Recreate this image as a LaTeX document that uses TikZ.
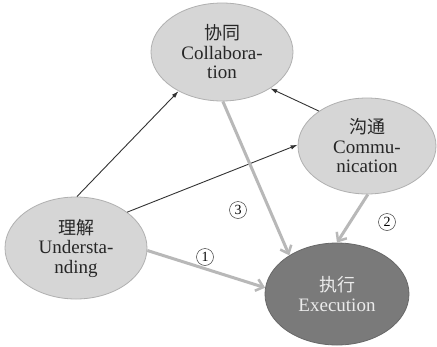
\documentclass[tikz,border=0pt]{standalone}
\usepackage{fontspec}
\setmainfont{Liberation Serif}
\newfontfamily\cjk{Noto Sans CJK SC}
\usetikzlibrary{shapes.geometric,arrows.meta}
\definecolor{lightfill}{HTML}{D6D6D6}
\definecolor{lightedge}{HTML}{B0B0B0}
\definecolor{darkfill}{HTML}{7A7A7A}
\definecolor{flowgray}{HTML}{B8B8B8}
\definecolor{linkgray}{HTML}{333333}
\tikzset{
  bubble/.style={ellipse, inner sep=0pt, fill=lightfill, draw=lightedge, line width=0.8pt,
    align=center, font=\fontsize{19}{19.5}\selectfont, text=black!85},
  mainbubble/.style={bubble, fill=darkfill, draw=darkfill!85!black, text=white!92!black},
  link/.style={draw=linkgray, line width=0.9pt, -{Latex[length=7pt,width=4.5pt]}},
  flow/.style={draw=flowgray, line width=3pt, -{Straight Barb[length=7pt,width=12pt,line width=2.5pt]}},
  marker/.style={circle, draw=black!75, line width=0.5pt, inner sep=0pt, minimum size=17pt,
    font=\fontsize{14}{14}\selectfont}
}
\begin{document}
\begin{tikzpicture}[x=1pt,y=-1pt]
  \useasboundingbox (0,0) rectangle (437,346);
  \fill[white] (0,0) rectangle (437,346);

  \node[bubble, minimum width=142pt, minimum height=98pt] (col) at (222,52)
    {{\cjk\fontsize{18}{18}\selectfont 协同}\\Collabora-\\tion};
  \node[bubble, minimum width=138pt, minimum height=96pt] (com) at (367,146)
    {{\cjk\fontsize{18}{18}\selectfont 沟通}\\Commu-\\nication};
  \node[bubble, minimum width=142pt, minimum height=102pt] (und) at (76,248)
    {{\cjk\fontsize{18}{18}\selectfont 理解}\\Understa-\\nding};
  \node[mainbubble, minimum width=144pt, minimum height=102pt] (exe) at (337,294)
    {{\cjk\fontsize{18}{18}\selectfont 执行}\\Execution};

  % thin influence links
  \draw[link] (und.89) -- (col.222);
  \draw[link] (und.35) -- (com.179);
  \draw[link] (com.144) -- (col.323);

  % broad paths into execution
  \draw[flow] (col.271) -- (exe.141);
  \draw[flow] (com.271) -- (exe.90);
  \draw[flow] (und.358) -- (exe.175);

  \node[marker] (m3) at (238,210) {3};
  \node[marker] (m2) at (387,222) {2};
  \node[marker] (m1) at (205,257) {1};
\end{tikzpicture}
\end{document}
